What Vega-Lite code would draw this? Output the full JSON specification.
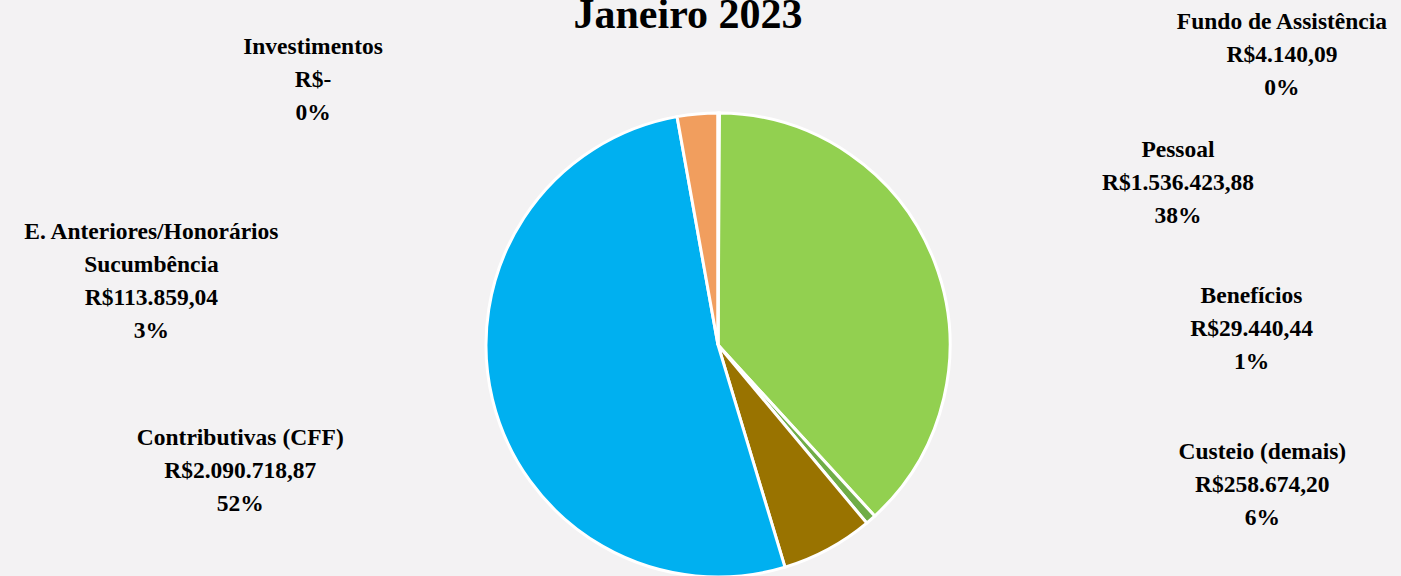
{
  "$schema": "https://vega.github.io/schema/vega-lite/v6.json",
  "autosize": {"type": "none"},
  "padding": {"left": 0, "top": 40, "right": 0, "bottom": 0},
  "width": 1436,
  "height": 610,
  "background": "#F3F2F3",
  "title": {
    "text": "Janeiro 2023",
    "font": "Liberation Serif",
    "fontSize": 42,
    "fontWeight": "bold",
    "color": "#000000",
    "offset": -27,
    "dx": -30,
    "anchor": "middle"
  },
  "data": {
    "values": [
      {"categoria": "Fundo de Assistência", "rotulo": ["Fundo de Assistência"], "valor": 4140.09, "ordem": 1},
      {"categoria": "Pessoal", "rotulo": ["Pessoal"], "valor": 1536423.88, "ordem": 2},
      {"categoria": "Benefícios", "rotulo": ["Benefícios"], "valor": 29440.44, "ordem": 3},
      {"categoria": "Custeio (demais)", "rotulo": ["Custeio (demais)"], "valor": 258674.20, "ordem": 4},
      {"categoria": "Contributivas (CFF)", "rotulo": ["Contributivas (CFF)"], "valor": 2090718.87, "ordem": 5},
      {"categoria": "E. Anteriores/Honorários Sucumbência", "rotulo": ["E. Anteriores/Honorários", "Sucumbência"], "valor": 113859.04, "ordem": 6},
      {"categoria": "Investimentos", "rotulo": ["Investimentos"], "valor": 0, "ordem": 7}
    ]
  },
  "transform": [
    {"joinaggregate": [{"op": "sum", "field": "valor", "as": "total"}]},
    {"calculate": "datum.valor == 0 ? 'R$-' : 'R$' + replace(replace(replace(format(datum.valor, ',.2f'), regexp(',', 'g'), '_'), regexp('\\\\.', 'g'), ','), regexp('_', 'g'), '.')", "as": "valorTexto"},
    {"calculate": "format(datum.valor / datum.total, '.0%')", "as": "pctTexto"},
    {"calculate": "split(join(datum.rotulo, '|') + '|' + datum.valorTexto + '|' + datum.pctTexto, '|')", "as": "texto"}
  ],
  "encoding": {
    "theta": {"field": "valor", "type": "quantitative", "stack": true},
    "order": {"field": "ordem", "type": "quantitative"}
  },
  "layer": [
    {
      "mark": {"type": "arc", "outerRadius": 232, "stroke": "#FFFFFF", "strokeWidth": 3},
      "encoding": {
        "color": {
          "field": "categoria",
          "type": "nominal",
          "scale": {
            "domain": ["Fundo de Assistência", "Pessoal", "Benefícios", "Custeio (demais)", "Contributivas (CFF)", "E. Anteriores/Honorários Sucumbência", "Investimentos"],
            "range": ["#FFC000", "#92D050", "#70AD47", "#997300", "#00B0F0", "#F19E5E", "#5B9BD5"]
          },
          "legend": null
        }
      }
    },
    {
      "mark": {
        "type": "text",
        "radius": 300,
        "font": "Liberation Serif",
        "fontSize": 23.5,
        "fontWeight": "bold",
        "lineHeight": 33,
        "align": "center",
        "baseline": "middle",
        "color": "#000000",
        "dx": {"expr": "[563, 180, 336, 402, -186, -540, -405][datum.ordem - 1]"},
        "dy": {"expr": "[-23, -87, -275, -157, 23, 186, 2][datum.ordem - 1]"}
      },
      "encoding": {"text": {"field": "texto"}}
    }
  ]
}
